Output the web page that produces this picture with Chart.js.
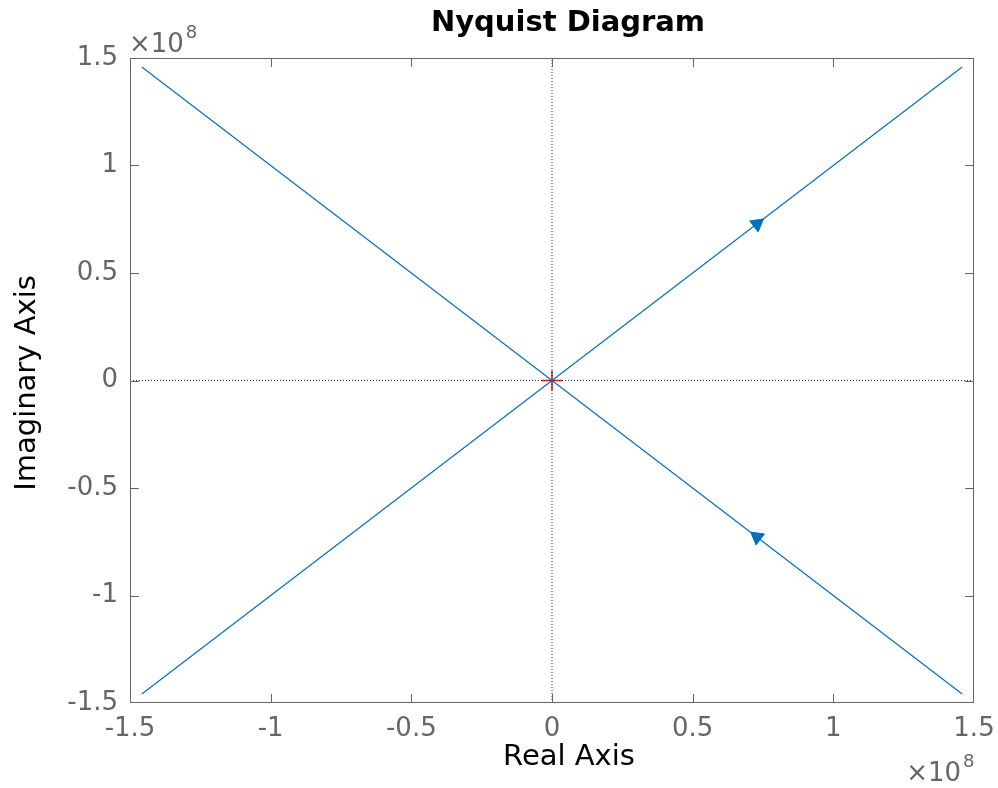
<!DOCTYPE html>
<html>
<head>
<meta charset="utf-8">
<title>Nyquist Diagram</title>
<script src="https://cdn.jsdelivr.net/npm/chart.js@4.4.1/dist/chart.umd.min.js"></script>
<style>
  body { margin: 0; background: #fff; }
  #nyquistChart { display: block; }
</style>
</head>
<body>
<canvas id="nyquistChart" width="998" height="788"></canvas>
<script>
let nyquistChart = document.querySelector('#nyquistChart');

// axis range, the tick labels are shown in units of 1e8
let axisScale = 1e8;
let axisMin = -1.5e8;
let axisMax = 1.5e8;
let tickStep = 0.5e8;

// positive frequency branch
let posReal = [-1.458e8, 0, 1.458e8];
let posImag = [-1.458e8, 0, 1.458e8];

// negative frequency branch (mirror image)
let negReal = [1.458e8, 0, -1.458e8];
let negImag = [-1.458e8, 0, 1.458e8];

// direction arrows: position and direction of travel
let arrowReal = [0.729e8, 0.729e8];
let arrowImag = [0.728e8, -0.728e8];
let arrowDirReal = [1, -1];
let arrowDirImag = [1, 1];

// critical point -1 + 0j
let criticalReal = [-1];
let criticalImag = [0];

// dotted zero lines
let zeroLineSpan = [-1.5e8, 1.5e8];

let titleText = 'Nyquist Diagram';
let xAxisText = 'Real Axis';
let yAxisText = 'Imaginary Axis';
let exponentText = ['\u00d710', '8'];

let blue = '#0072BD';
let axisGrey = '#666666';

function toPoints(xs, ys) {
  let pts = [];
  for (let i = 0; i < xs.length; i++) {
    pts.push({ x: xs[i], y: ys[i] });
  }
  return pts;
}

function tickLabel(v) {
  let n = +(v / axisScale).toFixed(3);
  return String(n);
}

// rotation of arrow heads, worked out in pixels from the scales
function arrowRotation(ctx) {
  let chart = ctx.chart;
  let i = ctx.dataIndex;
  let xs = chart.scales.x;
  let ys = chart.scales.y;
  if (!xs || !ys || i === undefined) return 0;
  let x0 = xs.getPixelForValue(arrowReal[i]);
  let y0 = ys.getPixelForValue(arrowImag[i]);
  let x1 = xs.getPixelForValue(arrowReal[i] + arrowDirReal[i] * 1e7);
  let y1 = ys.getPixelForValue(arrowImag[i] + arrowDirImag[i] * 1e7);
  return Math.atan2(x1 - x0, -(y1 - y0)) * 180 / Math.PI;
}

// frame, inward ticks and the texts
let framePlugin = {
  id: 'framePlugin',
  afterDraw(chart) {
    let c = chart.ctx;
    let a = chart.chartArea;
    let xs = chart.scales.x;
    let ys = chart.scales.y;
    let tl = 9;

    c.save();
    c.strokeStyle = axisGrey;
    c.lineWidth = 1;
    c.strokeRect(a.left + 0.5, a.top + 0.5, a.right - a.left - 1, a.bottom - a.top - 1);

    c.beginPath();
    xs.ticks.forEach(function (t) {
      let px = Math.round(xs.getPixelForValue(t.value)) + 0.5;
      if (px <= a.left + 1 || px >= a.right - 1) return;
      c.moveTo(px, a.bottom);
      c.lineTo(px, a.bottom - tl);
      c.moveTo(px, a.top);
      c.lineTo(px, a.top + tl);
    });
    ys.ticks.forEach(function (t) {
      let py = Math.round(ys.getPixelForValue(t.value)) + 0.5;
      if (py <= a.top + 1 || py >= a.bottom - 1) return;
      c.moveTo(a.left, py);
      c.lineTo(a.left + tl, py);
      c.moveTo(a.right, py);
      c.lineTo(a.right - tl, py);
    });
    c.stroke();

    // title
    c.fillStyle = '#000';
    c.font = 'bold 29px "DejaVu Sans"';
    c.textAlign = 'center';
    c.textBaseline = 'alphabetic';
    c.fillText(titleText, 568, 31);

    // axis titles
    c.font = '29px "DejaVu Sans"';
    c.fillText(xAxisText, 569, 765);
    c.save();
    c.translate(35, 383);
    c.rotate(-Math.PI / 2);
    c.fillText(yAxisText, 0, 0);
    c.restore();

    // exponent labels
    c.fillStyle = axisGrey;
    c.font = '26px "DejaVu Sans"';
    c.textAlign = 'left';
    c.fillText(exponentText[0], 129, 52);
    let w = c.measureText(exponentText[0]).width;
    c.font = '18px "DejaVu Sans"';
    c.fillText(exponentText[1], 129 + w + 2, 38);

    c.font = '26px "DejaVu Sans"';
    c.textAlign = 'right';
    c.fillText(exponentText[0], 961, 781);
    c.font = '18px "DejaVu Sans"';
    c.textAlign = 'left';
    c.fillText(exponentText[1], 963, 767);
    c.restore();
  }
};

let tickFont = { family: 'DejaVu Sans', size: 26 };

let chart = new Chart(nyquistChart, {
  type: 'scatter',
  data: {
    datasets: [
      {
        label: 'zero real',
        data: toPoints(zeroLineSpan, [0, 0]),
        showLine: true,
        borderColor: '#333333',
        borderWidth: 1,
        borderDash: [1, 2],
        pointRadius: 0
      },
      {
        label: 'zero imag',
        data: toPoints([0, 0], zeroLineSpan),
        showLine: true,
        borderColor: '#333333',
        borderWidth: 1,
        borderDash: [1, 2],
        pointRadius: 0
      },
      {
        label: 'positive frequencies',
        data: toPoints(posReal, posImag),
        showLine: true,
        borderColor: blue,
        borderWidth: 1.2,
        pointRadius: 0
      },
      {
        label: 'negative frequencies',
        data: toPoints(negReal, negImag),
        showLine: true,
        borderColor: blue,
        borderWidth: 1.2,
        pointRadius: 0
      },
      {
        label: 'arrows',
        data: toPoints(arrowReal, arrowImag),
        showLine: false,
        pointStyle: 'triangle',
        pointRadius: 8,
        rotation: arrowRotation,
        backgroundColor: blue,
        borderColor: blue,
        borderWidth: 1
      },
      {
        label: 'critical point',
        data: toPoints(criticalReal, criticalImag),
        showLine: false,
        pointStyle: 'cross',
        pointRadius: 10,
        borderColor: '#ff0000',
        borderWidth: 1.5
      }
    ]
  },
  options: {
    responsive: false,
    animation: false,
    layout: { padding: { top: 58, right: 24, left: 0, bottom: 0 } },
    plugins: {
      legend: { display: false },
      tooltip: { enabled: false },
      title: { display: false }
    },
    scales: {
      x: {
        type: 'linear',
        min: axisMin,
        max: axisMax,
        ticks: {
          stepSize: tickStep,
          callback: tickLabel,
          color: axisGrey,
          font: tickFont,
          padding: 11,
          maxRotation: 0,
          autoSkip: false
        },
        grid: { display: false, drawTicks: false },
        border: { display: false },
        afterFit: function (s) {
          s.height = 85;
          s.paddingLeft = 0;
          s.paddingRight = 0;
        }
      },
      y: {
        type: 'linear',
        min: axisMin,
        max: axisMax,
        ticks: {
          stepSize: tickStep,
          callback: tickLabel,
          color: axisGrey,
          font: tickFont,
          padding: 12,
          autoSkip: false
        },
        grid: { display: false, drawTicks: false },
        border: { display: false },
        afterFit: function (s) {
          s.width = 130;
          s.paddingTop = 0;
          s.paddingBottom = 0;
        }
      }
    }
  },
  plugins: [framePlugin]
});
</script>
</body>
</html>
